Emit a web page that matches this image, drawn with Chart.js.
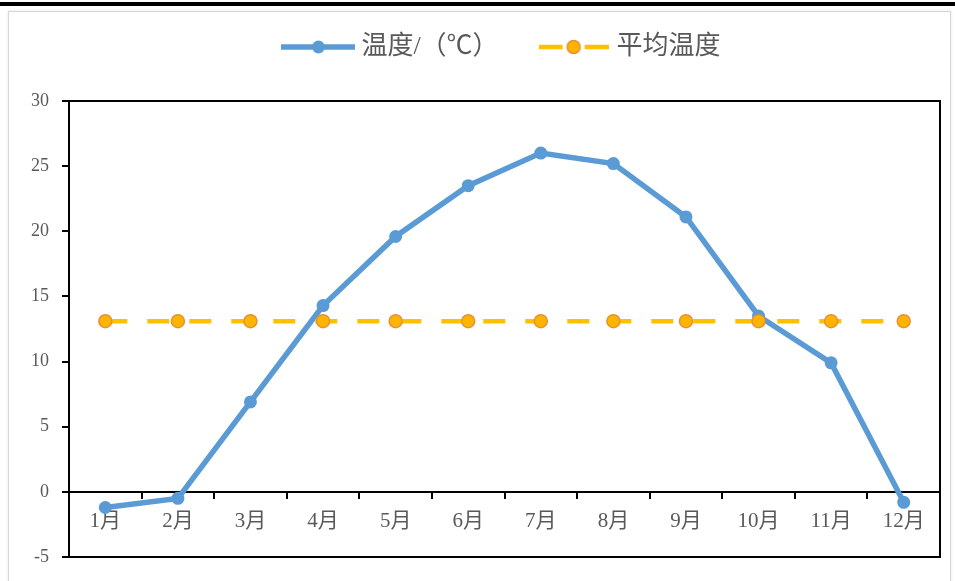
<!DOCTYPE html>
<html lang="zh-CN">
<head>
<meta charset="UTF-8">
<title>温度</title>
<script src="https://cdn.jsdelivr.net/npm/chart.js"></script>
<style>
  body { margin: 0; background: #fff; }
  #barra { position: absolute; left: 0; top: 2px; width: 955px; height: 4px; background: #000; }
  #moldura { position: absolute; left: 8px; top: 11px; width: 941px; height: 600px; border: 1px solid #d6d6d6; box-shadow: 0 0 3px #e6e6e6; }
  #caixa { position: absolute; left: 0; top: 0; width: 955px; height: 581px; }
</style>
</head>
<body>
<div id="barra"></div>
<div id="moldura"></div>
<div id="caixa"><canvas id="grafico"></canvas></div>

<script>
  const meses = ['1月', '2月', '3月', '4月', '5月', '6月', '7月', '8月', '9月', '10月', '11月', '12月'];
  const temperatura = [-1.2, -0.5, 6.9, 14.3, 19.6, 23.5, 26.0, 25.2, 21.1, 13.5, 9.9, -0.8];
  const media = [13.1, 13.1, 13.1, 13.1, 13.1, 13.1, 13.1, 13.1, 13.1, 13.1, 13.1, 13.1];
  const nomes = ['温度/（℃）', '平均温度'];
  const eixoY = { min: -5, max: 30, passo: 5 };

  const azul = '#5B9BD5';
  const amarelo = '#FFC000';
  const cinza = '#595959';
  const fonte = "'Liberation Serif', 'Noto Sans CJK SC', serif";

  // icones da legenda: linha com marcador no meio
  function icone(largura, desenho) {
    const c = document.createElement('canvas');
    c.width = largura;
    c.height = 18;
    desenho(c.getContext('2d'));
    return c;
  }

  const iconeAzul = icone(74, ctx => {
    ctx.strokeStyle = azul;
    ctx.lineWidth = 5.5;
    ctx.beginPath(); ctx.moveTo(0, 9); ctx.lineTo(74, 9); ctx.stroke();
    ctx.fillStyle = azul;
    ctx.beginPath(); ctx.arc(37, 9, 6.5, 0, Math.PI * 2); ctx.fill();
  });

  const iconeAmarelo = icone(70, ctx => {
    ctx.strokeStyle = amarelo;
    ctx.lineWidth = 4.5;
    ctx.beginPath();
    ctx.moveTo(0, 9); ctx.lineTo(24, 9);
    ctx.moveTo(46, 9); ctx.lineTo(70, 9);
    ctx.stroke();
    ctx.fillStyle = '#FFB400';
    ctx.strokeStyle = '#E69138';
    ctx.lineWidth = 1.5;
    ctx.beginPath(); ctx.arc(35, 9, 6.5, 0, Math.PI * 2); ctx.fill(); ctx.stroke();
  });

  const moldura = {
    id: 'moldura',
    beforeDatasetsDraw(chart) {
      const { ctx, chartArea: a } = chart;
      ctx.save();
      ctx.strokeStyle = '#000';
      ctx.lineWidth = 2;
      ctx.strokeRect(a.left, a.top, a.right - a.left, a.bottom - a.top);
      ctx.restore();
    }
  };

  const ctx = document.getElementById('grafico').getContext('2d');
  new Chart(ctx, {
    type: 'line',
    data: {
      labels: meses,
      datasets: [
        {
          label: nomes[0],
          data: temperatura,
          borderColor: azul,
          backgroundColor: azul,
          borderWidth: 5.5,
          pointRadius: 6.5,
          pointBackgroundColor: azul,
          pointBorderColor: azul,
          pointBorderWidth: 0,
          tension: 0,
          order: 2
        },
        {
          label: nomes[1],
          data: media,
          borderColor: amarelo,
          borderWidth: 4.5,
          borderDash: [22, 20],
          pointRadius: 6.5,
          pointBackgroundColor: '#FFB400',
          pointBorderColor: '#E69138',
          pointBorderWidth: 1.5,
          tension: 0,
          order: 1
        }
      ]
    },
    options: {
      responsive: true,
      maintainAspectRatio: false,
      animation: false,
      layout: { padding: { left: 0, right: 15, top: -11, bottom: 24 } },
      plugins: {
        tooltip: { enabled: false },
        legend: {
          position: 'top',
          fullSize: false,
          labels: {
            usePointStyle: true,
            pointStyleWidth: 60,
            padding: 45,
            color: cinza,
            font: { family: fonte, size: 26 },
            generateLabels: chart => chart.data.datasets.map((ds, i) => ({
              text: ds.label,
              pointStyle: i === 0 ? iconeAzul : iconeAmarelo,
              fontColor: cinza,
              fillStyle: 'transparent',
              strokeStyle: 'transparent',
              lineWidth: 0,
              hidden: false,
              datasetIndex: i
            }))
          }
        }
      },
      scales: {
        x: {
          type: 'category',
          position: { y: 0 },
          offset: true,
          grid: { display: true, drawOnChartArea: false, offset: true, tickLength: 6, color: '#000', lineWidth: 2 },
          border: { display: true, color: '#000', width: 2 },
          ticks: { color: cinza, font: { family: fonte, size: 21 }, padding: 11, maxRotation: 0, autoSkip: false }
        },
        topo: {
          axis: 'x',
          type: 'category',
          position: 'top',
          grid: { display: false },
          border: { display: false },
          ticks: { display: false },
          afterFit: s => { s.height = 31; }
        },
        y: {
          min: eixoY.min,
          max: eixoY.max,
          afterFit: s => { s.width = 69; },
          ticks: { stepSize: eixoY.passo, color: cinza, font: { family: fonte, size: 18 }, padding: 13 },
          grid: { drawOnChartArea: false, tickLength: 7, color: '#000', lineWidth: 2 },
          border: { display: true, color: '#000', width: 2 }
        }
      }
    },
    plugins: [moldura]
  });
</script>
</body>
</html>
